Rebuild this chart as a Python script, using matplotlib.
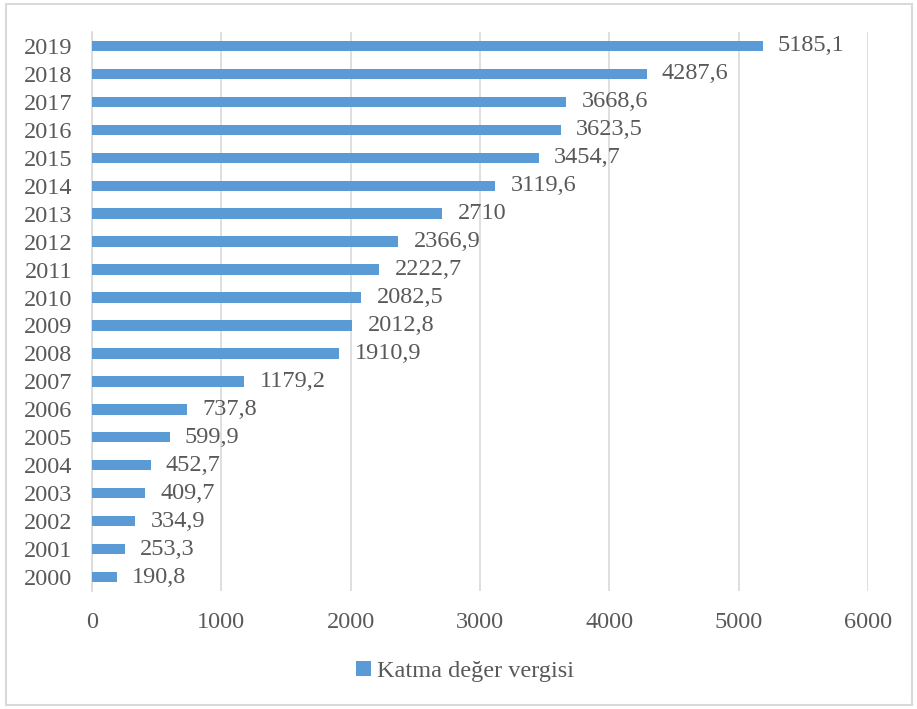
import matplotlib.pyplot as plt
from matplotlib.patches import Rectangle

years = ['2000', '2001', '2002', '2003', '2004', '2005', '2006', '2007', '2008', '2009',
         '2010', '2011', '2012', '2013', '2014', '2015', '2016', '2017', '2018', '2019']
values = [190.8, 253.3, 334.9, 409.7, 452.7, 599.9, 737.8, 1179.2, 1910.9, 2012.8,
          2082.5, 2222.7, 2366.9, 2710, 3119.6, 3454.7, 3623.5, 3668.6, 4287.6, 5185.1]
labels = ['190,8', '253,3', '334,9', '409,7', '452,7', '599,9', '737,8', '1179,2', '1910,9', '2012,8',
          '2082,5', '2222,7', '2366,9', '2710', '3119,6', '3454,7', '3623,5', '3668,6', '4287,6', '5185,1']
xticks = [0, 1000, 2000, 3000, 4000, 5000, 6000]

plt.rcParams['font.family'] = ['Liberation Serif', 'DejaVu Serif']
text_color = '#595959'
bar_color = '#5B9BD5'
fs = 17.5

fig = plt.figure(figsize=(9.17, 7.09), dpi=100)
ax = fig.add_axes([0.1003, 0.1664, 0.8463, 0.7885])

bars = ax.barh(years, values, height=0.37, color=bar_color, label='Katma değer vergisi', zorder=3)
ax.bar_label(bars, labels=labels, padding=11, fontsize=fs, color=text_color)

ax.set_xlim(0, 6000)
ax.set_ylim(-0.5, len(years) - 0.5)
ax.set_xticks(xticks)
ax.set_xticklabels([str(t) for t in xticks])
ax.grid(axis='x', color='#D9D9D9', linewidth=1.2, zorder=0)
for s in ['top', 'right', 'bottom']:
    ax.spines[s].set_visible(False)
ax.spines['left'].set_color('#D9D9D9')
ax.spines['left'].set_linewidth(1.2)
ax.tick_params(axis='both', length=0, labelsize=fs, labelcolor=text_color)
ax.tick_params(axis='y', pad=14)
ax.tick_params(axis='x', pad=15)

fig.legend(loc='center', bbox_to_anchor=(0.507, 0.053), frameon=False, fontsize=fs,
           labelcolor=text_color, handlelength=0.6, handleheight=0.6, handletextpad=0.25)

fig.patches.append(Rectangle((0.007, 0.006), 0.988, 0.988, transform=fig.transFigure,
                             fill=False, edgecolor='#D9D9D9', linewidth=1.5))

fig.savefig('out.png', dpi=100)
